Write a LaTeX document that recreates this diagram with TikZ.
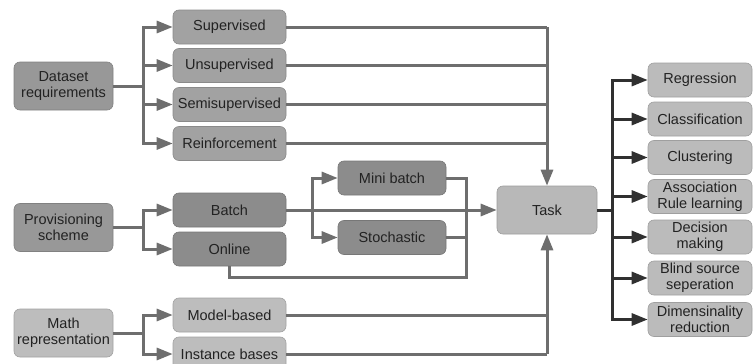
\documentclass[tikz,border=0pt]{standalone}
\usepackage{fontspec}
\setmainfont{Liberation Sans}
\usetikzlibrary{arrows.meta}

\definecolor{dsfill}{HTML}{989898}
\definecolor{supfill}{HTML}{A2A2A2}
\definecolor{batchfill}{HTML}{8C8C8C}
\definecolor{mathfill}{HTML}{BDBDBD}
\definecolor{taskfill}{HTML}{B8B8B8}
\definecolor{outfill}{HTML}{BBBBBB}
\definecolor{linegray}{HTML}{6E6E6E}
\definecolor{linedark}{HTML}{303030}
\definecolor{txt}{HTML}{222222}

\tikzset{
  box/.style={draw=#1!85!black, fill=#1, line width=0.6pt, rounded corners=6pt,
    minimum width=113pt, minimum height=34pt, inner sep=1pt, align=center,
    text=txt, font=\fontsize{14.5}{16}\selectfont},
  src/.style={box=#1, minimum width=99pt, minimum height=48pt},
  outbox/.style={box=outfill, minimum width=104pt},
  link/.style={draw=linegray, line width=3pt},
  arr/.style={link, -{Triangle[length=16pt, width=12pt]}},
  dlink/.style={draw=linedark, line width=3pt},
  darr/.style={dlink, -{Triangle[length=16pt, width=12pt]}}
}

\begin{document}
\begin{tikzpicture}[x=1pt, y=-1pt]
  \useasboundingbox (0,0) rectangle (753,364);

  % sources
  \node[src=dsfill] (ds) at (63.5,86) {Dataset\\requirements};
  \node[src=dsfill] (prov) at (63.5,227.5) {Provisioning\\scheme};
  \node[src=mathfill] (math) at (63.5,333) {Math\\representation};

  \node[box=supfill] (sup) at (229.5,27) {Supervised};
  \node[box=supfill] (unsup) at (229.5,65.5) {Unsupervised};
  \node[box=supfill] (semi) at (229.5,104.5) {Semisupervised};
  \node[box=supfill] (reinf) at (229.5,143.5) {Reinforcement};

  \node[box=batchfill] (batch) at (229.5,210) {Batch};
  \node[box=batchfill] (online) at (229.5,249) {Online};
  \node[box=batchfill, minimum width=108pt] (mini) at (392,178) {Mini batch};
  \node[box=batchfill, minimum width=108pt] (stoch) at (392,237.5) {Stochastic};

  \node[box=mathfill] (model) at (229.5,315) {Model-based};
  \node[box=mathfill] (inst) at (229.5,354) {Instance bases};

  \node[box=taskfill, minimum width=100pt, minimum height=48pt] (task) at (547,210) {Task};

  % tasks
  \node[outbox] (reg) at (700,80) {Regression};
  \node[outbox] (cls) at (700,119) {Classification};
  \node[outbox] (clu) at (700,157.5) {Clustering};
  \node[outbox] (assoc) at (700,196.5) {Association\\Rule learning};
  \node[outbox] (dec) at (700,237) {Decision\\making};
  \node[outbox] (blind) at (700,278) {Blind source\\seperation};
  \node[outbox] (dim) at (700,319.5) {Dimensinality\\reduction};

  % junctions
  \coordinate (dsbr) at (143,86);
  \coordinate (provbr) at (143,227.5);
  \coordinate (mathbr) at (143,333);
  \coordinate (batchbr) at (312,210);
  \coordinate (merge) at (466,277);
  \coordinate (tasktop) at (547,27);
  \coordinate (taskbot) at (547,354);
  \coordinate (taskbr) at (612,210);

  % left branches
  \draw[link] (ds.east) -- (dsbr);
  \foreach \n in {sup,unsup,semi,reinf}
    \draw[arr] (dsbr) |- (\n.west);
  \draw[link] (prov.east) -- (provbr);
  \foreach \n in {batch,online}
    \draw[arr] (provbr) |- (\n.west);
  \draw[link] (math.east) -- (mathbr);
  \foreach \n in {model,inst}
    \draw[arr] (mathbr) |- (\n.west);

  % into task from above
  \draw[link] (sup.east) -- (tasktop);
  \foreach \n in {unsup,semi,reinf}
    \draw[link] (\n.east) -- (\n.east -| tasktop);
  \draw[arr] (tasktop) -- (task.north);

  % batch schemes
  \draw[arr] (batch.east) -- (task.west);
  \draw[arr] (batchbr) |- (mini.west);
  \draw[arr] (batchbr) |- (stoch.west);
  \draw[link] (mini.east) -| (merge) -| (online.south);
  \draw[link] (stoch.east) -- (stoch.east -| merge);

  % into task from below
  \draw[link] (inst.east) -- (taskbot);
  \draw[link] (model.east) -- (model.east -| taskbot);
  \draw[arr] (taskbot) -- (task.south);

  % out of task
  \draw[dlink] (task.east) -- (taskbr);
  \foreach \n in {reg,cls,clu,assoc,dec,blind,dim}
    \draw[darr] (taskbr) |- (\n.west);
\end{tikzpicture}
\end{document}
